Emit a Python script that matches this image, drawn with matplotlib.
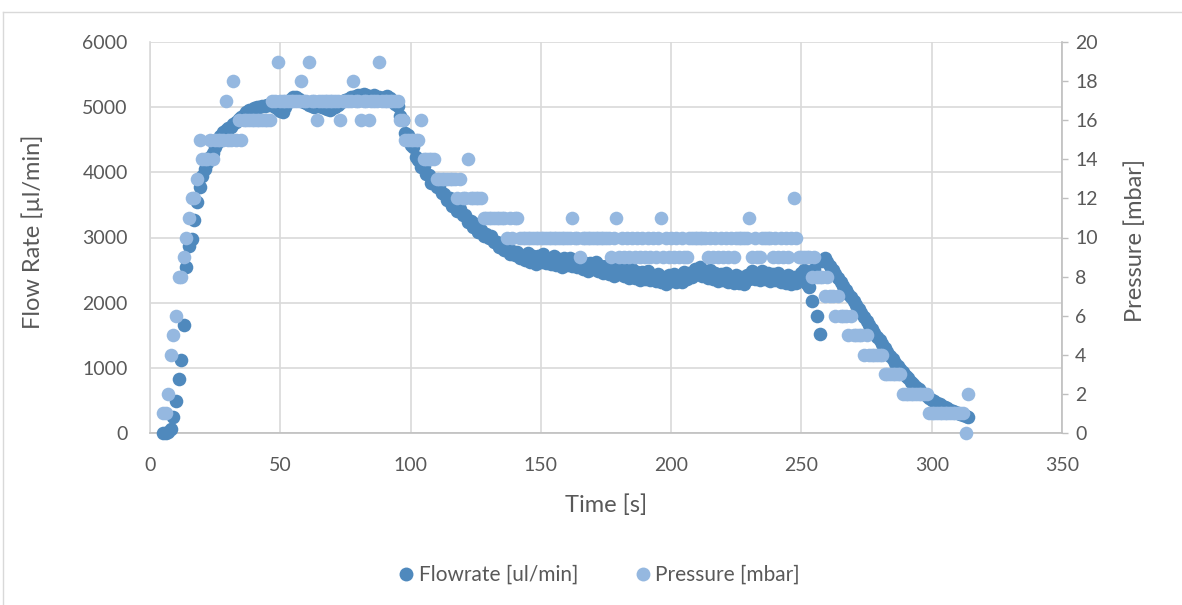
import matplotlib
matplotlib.use("Agg")
import matplotlib.pyplot as plt
from matplotlib.lines import Line2D

# logger samples, one per second
time_s = [
    5, 6, 7, 8, 9, 10, 11, 12, 13, 14, 15, 16, 17, 18, 19, 20, 21, 22, 23, 24,
    25, 26, 27, 28, 29, 30, 31, 32, 33, 34, 35, 36, 37, 38, 39, 40, 41, 42, 43, 44,
    45, 46, 47, 48, 49, 50, 51, 52, 53, 54, 55, 56, 57, 58, 59, 60, 61, 62, 63, 64,
    65, 66, 67, 68, 69, 70, 71, 72, 73, 74, 75, 76, 77, 78, 79, 80, 81, 82, 83, 84,
    85, 86, 87, 88, 89, 90, 91, 92, 93, 94, 95, 96, 97, 98, 99, 100, 101, 102, 103, 104,
    105, 106, 107, 108, 109, 110, 111, 112, 113, 114, 115, 116, 117, 118, 119, 120, 121, 122, 123, 124,
    125, 126, 127, 128, 129, 130, 131, 132, 133, 134, 135, 136, 137, 138, 139, 140, 141, 142, 143, 144,
    145, 146, 147, 148, 149, 150, 151, 152, 153, 154, 155, 156, 157, 158, 159, 160, 161, 162, 163, 164,
    165, 166, 167, 168, 169, 170, 171, 172, 173, 174, 175, 176, 177, 178, 179, 180, 181, 182, 183, 184,
    185, 186, 187, 188, 189, 190, 191, 192, 193, 194, 195, 196, 197, 198, 199, 200, 201, 202, 203, 204,
    205, 206, 207, 208, 209, 210, 211, 212, 213, 214, 215, 216, 217, 218, 219, 220, 221, 222, 223, 224,
    225, 226, 227, 228, 229, 230, 231, 232, 233, 234, 235, 236, 237, 238, 239, 240, 241, 242, 243, 244,
    245, 246, 247, 248, 249, 250, 251, 252, 253, 254, 255, 256, 257, 258, 259, 260, 261, 262, 263, 264,
    265, 266, 267, 268, 269, 270, 271, 272, 273, 274, 275, 276, 277, 278, 279, 280, 281, 282, 283, 284,
    285, 286, 287, 288, 289, 290, 291, 292, 293, 294, 295, 296, 297, 298, 299, 300, 301, 302, 303, 304,
    305, 306, 307, 308, 309, 310, 311, 312, 313, 314,
]

flowrate = [
    0, 0, 20, 60, 250, 490, 825, 1120, 1650, 2540,
    2870, 2970, 3270, 3550, 3780, 3950, 4050, 4150, 4230, 4300,
    4390, 4470, 4560, 4620, 4650, 4680, 4700, 4740, 4780, 4820,
    4850, 4880, 4920, 4950, 4960, 4980, 5000, 5010, 5020, 5020,
    5030, 5030, 5040, 5000, 4970, 4940, 4930, 5000, 5080, 5120,
    5150, 5160, 5130, 5100, 5080, 5060, 5040, 5020, 5010, 5030,
    5020, 5000, 4990, 4970, 4960, 4980, 5000, 5030, 5060, 5090,
    5110, 5130, 5150, 5160, 5170, 5180, 5190, 5200, 5180, 5170,
    5160, 5180, 5160, 5150, 5140, 5160, 5170, 5140, 5100, 5050,
    5020, 4870, 4800, 4610, 4570, 4420, 4390, 4230, 4190, 4080,
    4100, 3970, 3960, 3840, 3860, 3770, 3790, 3680, 3670, 3570,
    3600, 3490, 3500, 3400, 3430, 3340, 3340, 3240, 3250, 3160,
    3200, 3090, 3110, 3020, 3060, 2990, 3030, 2930, 2930, 2850,
    2910, 2810, 2840, 2750, 2800, 2730, 2770, 2690, 2710, 2650,
    2760, 2620, 2710, 2600, 2720, 2630, 2740, 2610, 2670, 2590,
    2710, 2580, 2670, 2550, 2680, 2580, 2690, 2560, 2620, 2540,
    2650, 2520, 2610, 2490, 2610, 2510, 2620, 2480, 2560, 2460,
    2570, 2440, 2530, 2410, 2520, 2440, 2540, 2410, 2460, 2380,
    2510, 2380, 2470, 2350, 2470, 2370, 2480, 2350, 2400, 2330,
    2440, 2310, 2400, 2290, 2420, 2330, 2440, 2320, 2390, 2310,
    2470, 2360, 2460, 2390, 2520, 2440, 2550, 2410, 2460, 2380,
    2500, 2370, 2450, 2340, 2440, 2350, 2460, 2320, 2380, 2300,
    2430, 2300, 2400, 2290, 2420, 2370, 2480, 2360, 2430, 2350,
    2490, 2360, 2450, 2330, 2440, 2350, 2460, 2320, 2380, 2300,
    2420, 2290, 2390, 2300, 2400, 2450, 2500, 2280, 2240, 2020,
    2520, 1790, 1520, 2640, 2680, 2620, 2560, 2500, 2440, 2380,
    2320, 2260, 2200, 2140, 2080, 2020, 1960, 1900, 1840, 1780,
    1720, 1660, 1600, 1540, 1480, 1420, 1360, 1300, 1240, 1180,
    1130, 1080, 1030, 980, 930, 880, 840, 790, 750, 710,
    670, 630, 600, 570, 540, 510, 490, 460, 440, 420,
    400, 380, 360, 340, 320, 300, 290, 270, 260, 250,
]

pressure = [
    1, 1, 2, 4, 5, 6, 8, 8, 9, 10,
    11, 12, 12, 13, 15, 14, 14, 14, 15, 14,
    15, 15, 15, 15, 17, 15, 15, 18, 15, 16,
    15, 16, 16, 16, 16, 16, 16, 16, 16, 16,
    16, 16, 17, 17, 19, 17, 17, 17, 17, 17,
    17, 17, 17, 18, 17, 17, 19, 17, 17, 16,
    17, 17, 17, 17, 17, 17, 17, 17, 16, 17,
    17, 17, 17, 18, 17, 17, 16, 17, 17, 16,
    17, 17, 17, 19, 17, 17, 17, 17, 17, 17,
    17, 16, 16, 15, 15, 15, 15, 15, 15, 16,
    14, 14, 14, 14, 14, 13, 13, 13, 13, 13,
    13, 13, 13, 12, 13, 12, 12, 14, 12, 12,
    12, 12, 12, 11, 11, 11, 11, 11, 11, 11,
    11, 11, 10, 11, 10, 11, 11, 10, 10, 10,
    10, 10, 10, 10, 10, 10, 10, 10, 10, 10,
    10, 10, 10, 10, 10, 10, 10, 11, 10, 10,
    9, 10, 10, 10, 10, 10, 10, 10, 10, 10,
    10, 10, 9, 10, 11, 9, 10, 9, 10, 9,
    10, 9, 10, 9, 10, 9, 10, 9, 10, 9,
    10, 11, 9, 10, 9, 10, 9, 10, 9, 10,
    9, 9, 10, 10, 10, 10, 10, 10, 10, 9,
    10, 9, 10, 9, 10, 9, 10, 9, 10, 9,
    10, 10, 10, 10, 10, 11, 9, 10, 9, 9,
    10, 10, 10, 10, 9, 10, 9, 10, 9, 10,
    9, 10, 12, 10, 9, 9, 9, 9, 9, 8,
    9, 8, 8, 8, 7, 8, 7, 7, 6, 7,
    6, 6, 6, 5, 6, 5, 5, 5, 5, 4,
    5, 4, 4, 4, 4, 4, 4, 3, 3, 3,
    3, 3, 3, 3, 2, 2, 2, 2, 2, 2,
    2, 2, 2, 2, 1, 1, 1, 1, 1, 1,
    1, 1, 1, 1, 1, 1, 1, 1, 0, 2,
]

flow_color = "#4f89bd"
pressure_color = "#95b8e0"
grid_color = "#d9d9d9"
axis_color = "#bfbfbf"
text_color = "#595959"

plt.rcParams['font.family'] = ['Lato', 'DejaVu Sans']

W, H = 1182, 605
fig = plt.figure(figsize=(W / 100, H / 100), dpi=100)
ax = fig.add_axes([150 / W, 1 - 433 / H, 912 / W, 391 / H])
ax2 = ax.twinx()

ax.plot(time_s, flowrate, 'o', ms=9.8, mew=0, color=flow_color, clip_on=False, zorder=3)
ax2.plot(time_s, pressure, 'o', ms=9.8, mew=0, color=pressure_color, clip_on=False, zorder=3)

ax.set_xlim(0, 350)
ax.set_ylim(0, 6000)
ax2.set_ylim(0, 20)
ax.set_xticks(range(0, 351, 50))
ax.set_yticks(range(0, 6001, 1000))
ax2.set_yticks(range(0, 21, 2))

ax.grid(True, color=grid_color, lw=1.2)
ax.set_axisbelow(True)

for side in ['top', 'right']:
    ax.spines[side].set_visible(False)
ax.spines['left'].set_color(grid_color)
ax.spines['left'].set_linewidth(1.2)
ax.spines['bottom'].set_color(axis_color)
ax.spines['bottom'].set_linewidth(1.2)
for side in ['top', 'left', 'bottom']:
    ax2.spines[side].set_visible(False)
ax2.spines['right'].set_color(axis_color)
ax2.spines['right'].set_linewidth(1.2)

ax.tick_params(axis='both', length=0, labelsize=14, labelcolor=text_color)
ax.tick_params(axis='y', pad=16)
ax.tick_params(axis='x', pad=17)
ax2.tick_params(axis='y', length=4.5, width=1, color=axis_color, pad=5,
                labelsize=14, labelcolor=text_color)

fig.text(33 / W, 1 - 232 / H, 'Flow Rate [µl/min]', rotation=90, ha='center', va='center',
         fontsize=17, color=text_color)
fig.text(1135 / W, 1 - 240 / H, 'Pressure [mbar]', rotation=90, ha='center', va='center',
         fontsize=17, color=text_color)
fig.text(606 / W, 1 - 505 / H, 'Time [s]', ha='center', va='center',
         fontsize=17, color=text_color)

handles = [
    Line2D([], [], ls='none', marker='o', ms=10, mew=0, color=flow_color),
    Line2D([], [], ls='none', marker='o', ms=10, mew=0, color=pressure_color),
]
fig.legend(handles, ['Flowrate [ul/min]', 'Pressure [mbar]'], loc='center',
           bbox_to_anchor=(598 / W, 1 - 575 / H), ncol=2, frameon=False, fontsize=15,
           labelcolor=text_color, handletextpad=0.1, columnspacing=2.6, handlelength=1.0)

# chart area border
fig.add_artist(Line2D([3 / W, 3 / W], [0, 1 - 12 / H], transform=fig.transFigure,
                      color=grid_color, lw=1))
fig.add_artist(Line2D([3 / W, 1], [1 - 12 / H, 1 - 12 / H], transform=fig.transFigure,
                      color=grid_color, lw=1))

fig.savefig('out.png', dpi=100)
